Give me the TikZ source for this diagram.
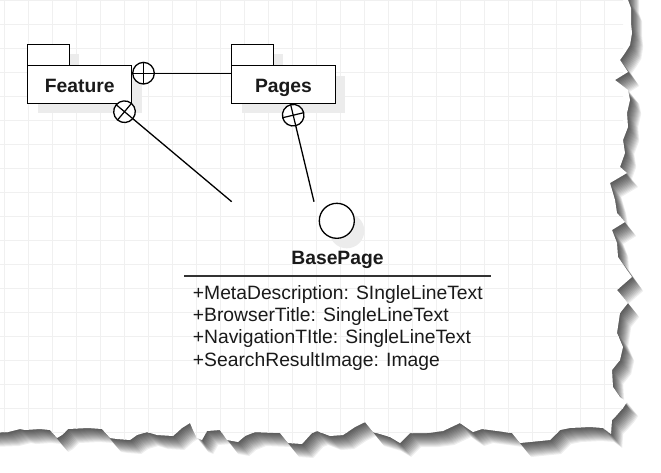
\documentclass[tikz,border=0pt]{standalone}
\usepackage{fontspec}
\setmainfont{Liberation Sans}
\usetikzlibrary{shadows}
\definecolor{gridc}{RGB}{240,240,240}
\definecolor{shadowc}{RGB}{236,236,236}
\definecolor{txtc}{RGB}{26,26,26}
\definecolor{sepc}{RGB}{51,51,51}
\def\paperpts{(-20,-20) -- (628,-20) -- (628,0) -- (631,8) -- (631,13) -- (631,23) -- (632,33) -- (630,45) -- (625,53) -- (620,60) -- (628,72) -- (615,80) -- (628,90) -- (630,100) -- (627,113) -- (628,127) -- (623,140) -- (625,153) -- (620,167) -- (627,173) -- (610,183) -- (615,200) -- (617,213) -- (625,222) -- (612,230) -- (617,243) -- (618,257) -- (627,270) -- (632,277) -- (617,290) -- (628,303) -- (620,313) -- (617,333) -- (623,347) -- (620,360) -- (612,370) -- (613,387) -- (620,397) -- (627,402) -- (623,408) -- (616,416) -- (612,420) -- (611,434) -- (603,428) -- (590,427) -- (570,428) -- (560,430) -- (550,440) -- (530,442) -- (520,443) -- (512,433) -- (497,431) -- (482,429) -- (473,432) -- (467,428) -- (460,423) -- (443,431) -- (427,433) -- (410,433) -- (400,443) -- (390,437) -- (380,434) -- (373,432) -- (365,422) -- (355,427) -- (343,435) -- (330,436) -- (317,431) -- (312,433) -- (302,444) -- (288,443) -- (280,433) -- (255,432) -- (245,436) -- (238,442) -- (227,440) -- (220,430) -- (207,431) -- (202,440) -- (197,438) -- (193,430) -- (190,423) -- (182,428) -- (173,436) -- (157,435) -- (147,432) -- (137,435) -- (130,440) -- (117,439) -- (110,438) -- (102,429) -- (88,428) -- (68,429) -- (62,435) -- (57,438) -- (50,430) -- (40,429) -- (25,430) -- (20,429) -- (8,432) -- (-20,433) -- cycle}
\tikzset{
  mainfont/.style={font=\fontsize{19.3}{22.4}\selectfont, text=txtc},
  pkgbox/.style={rectangle, draw=black, fill=white, line width=1.4pt, inner sep=0pt, outer sep=0pt,
    drop shadow={shadow xshift=10pt, shadow yshift=-10pt, fill=shadowc, opacity=1}},
  pkglabel/.style={mainfont, font=\fontsize{19.3}{22.4}\selectfont\bfseries, inner sep=0pt},
  endcirc/.style={circle, draw=black, fill=white, line width=1.3pt, minimum size=21.6pt, inner sep=0pt, outer sep=0pt},
  crossline/.style={line width=1.2pt},
  conn/.style={line width=1.3pt, black},
  attr/.style={mainfont, inner sep=0pt, anchor=base west},
  gridline/.style={gridc, line width=1pt},
}
\begin{document}
\begin{tikzpicture}[x=1pt,y=-1pt]
\useasboundingbox (0,0) rectangle (661,472);
\fill[white] (0,0) rectangle (661,472);
% torn paper shadow
\foreach \k in {1,...,14}{
  \fill[black, opacity=0.065, shift={(0.8*\k,\k)}] \paperpts;
}
\fill[white] \paperpts;
% grid
\begin{scope}
  \clip \paperpts;
  \clip (0,0) rectangle (623,472);
  \foreach \i in {0,...,25}{\draw[gridline] (4.5+24*\i,0) -- (4.5+24*\i,472);}
  \foreach \j in {0,...,19}{\draw[gridline] (0,24*\j+0.5) -- (661,24*\j+0.5);}
\end{scope}
% Feature package
\node[pkgbox, anchor=north west, minimum width=41.6pt, minimum height=21.4pt] (featureTab) at (27.7,44.3) {};
\node[pkgbox, anchor=north west, minimum width=104pt, minimum height=37.6pt] (featureBody) at (27.7,65.7) {};
\node[pkglabel, anchor=base] (featureLbl) at (79.7,92.8) {Feature};
% Pages package
\node[pkgbox, anchor=north west, minimum width=41.6pt, minimum height=21.4pt] (pagesTab) at (231.7,44.3) {};
\node[pkgbox, anchor=north west, minimum width=103.6pt, minimum height=37.6pt] (pagesBody) at (231.7,65.7) {};
\node[pkglabel, anchor=base] (pagesLbl) at (283.5,92.6) {Pages};
% interface
\node[circle, draw=black, fill=white, line width=1.3pt, minimum size=35pt, inner sep=0pt,
  drop shadow={shadow xshift=10pt, shadow yshift=-10pt, fill=shadowc, opacity=1}] (iface) at (336.8,220.8) {};
\node[pkglabel, anchor=base] (baseLbl) at (337.5,264) {BasePage};
\coordinate (sepL) at (184,276);
\coordinate (sepR) at (491,276);
\draw[sepc, line width=1.7pt] (sepL) -- (sepR);
\node[attr] (a1) at (192.7,299) {+MetaDescription: SIngleLineText};
\node[attr] (a2) at (192.7,321.4) {+BrowserTitle: SingleLineText};
\node[attr] (a3) at (192.7,343.8) {+NavigationTItle: SingleLineText};
\node[attr] (a4) at (192.7,366.2) {+SearchResultImage: Image};
% connectors
\coordinate (featEnd) at (231.7,201.7);
\coordinate (pagesEnd) at (314,201.7);
\node[endcirc] (fplus) at (143.5,73.2) {};
\draw[conn] (fplus.east) -- (fplus.east -| pagesBody.west);
\draw[crossline] (fplus.north) -- (fplus.south) (fplus.east) -- (fplus.west);
\node[endcirc, rotate=-40] (fx) at (124.5,111.7) {};
\draw[conn] (fx) -- (featEnd);
\draw[crossline] (fx.north) -- (fx.south) (fx.east) -- (fx.west);
\node[endcirc, rotate=-76.5] (pplus) at (293.2,115.2) {};
\draw[conn] (pplus) -- (pagesEnd);
\draw[crossline] (pplus.north) -- (pplus.south) (pplus.east) -- (pplus.west);
\end{tikzpicture}
\end{document}
